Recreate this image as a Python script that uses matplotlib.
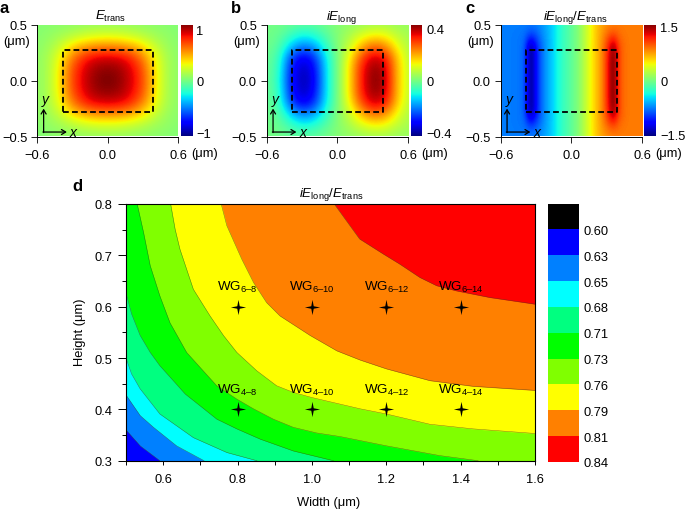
import numpy as np
import matplotlib
matplotlib.use("Agg")
import matplotlib.pyplot as plt
from matplotlib.colors import ListedColormap, BoundaryNorm
from matplotlib.path import Path

plt.rcParams['font.family'] = ['Liberation Sans', 'DejaVu Sans']
plt.rcParams['mathtext.fontset'] = 'custom'
plt.rcParams['mathtext.rm'] = 'Liberation Sans'
plt.rcParams['mathtext.it'] = 'Liberation Sans:italic'
plt.rcParams['mathtext.bf'] = 'Liberation Sans:bold'
plt.rcParams['axes.unicode_minus'] = True

W, H = 685, 510
UM = "(\u03bcm)"
FS = 9.3

# panel a, rows from y=0.5 down to y=-0.5, columns x=-0.6..0.6
e_trans = [
  [.02, .03, .04, .05, .06, .07, .07, .07, .06, .05, .04, .03, .02],
  [.03, .06, .10, .15, .20, .23, .24, .23, .20, .15, .10, .06, .03],
  [.04, .09, .21, .38, .50, .56, .58, .56, .50, .38, .21, .09, .04],
  [.05, .12, .32, .60, .80, .90, .92, .90, .80, .60, .32, .12, .05],
  [.05, .13, .36, .70, .90, 1.02, 1.05, 1.02, .90, .70, .36, .13, .05],
  [.05, .13, .38, .72, .92, 1.05, 1.10, 1.05, .92, .72, .38, .13, .05],
  [.05, .13, .36, .70, .90, 1.02, 1.05, 1.02, .90, .70, .36, .13, .05],
  [.05, .12, .32, .60, .80, .90, .92, .90, .80, .60, .32, .12, .05],
  [.04, .09, .21, .38, .50, .56, .58, .56, .50, .38, .21, .09, .04],
  [.03, .06, .10, .15, .20, .23, .24, .23, .20, .15, .10, .06, .03],
  [.02, .03, .04, .05, .06, .07, .07, .07, .06, .05, .04, .03, .02],
]

# panel b, same grid
e_long = [
  [-.01, -.01, -.02, -.03, -.03, -.01, .01, .02, .03, .04, .04, .03, .03],
  [-.01, -.02, -.07, -.11, -.09, -.04, .01, .05, .10, .13, .12, .07, .04],
  [-.01, -.04, -.15, -.22, -.19, -.08, .01, .08, .19, .26, .23, .12, .05],
  [-.02, -.06, -.26, -.35, -.29, -.12, .00, .13, .29, .38, .34, .17, .06],
  [-.02, -.07, -.30, -.39, -.33, -.13, .00, .15, .33, .42, .38, .18, .07],
  [-.02, -.08, -.31, -.40, -.34, -.13, .00, .15, .33, .43, .39, .18, .07],
  [-.02, -.07, -.30, -.39, -.33, -.13, .00, .15, .33, .42, .38, .18, .07],
  [-.02, -.06, -.26, -.35, -.29, -.12, .00, .13, .29, .38, .34, .17, .06],
  [-.01, -.04, -.15, -.22, -.19, -.08, .01, .08, .19, .26, .23, .12, .05],
  [-.01, -.02, -.07, -.11, -.09, -.04, .01, .05, .10, .13, .12, .07, .04],
  [-.01, -.01, -.02, -.03, -.03, -.01, .01, .02, .03, .04, .04, .03, .03],
]

# panel c, columns x=-0.6..0.6 in steps of 0.05
ratio_outer = [-.78, -.78, -.78, -.78, -.78, -.78, -.76, -.70, -.60, -.48, -.32, -.20, -.10, .02, .20, .40, .60, .72, .80, .84, .86, .86, .86, .86, .86]
ratio_near = [-.78, -.78, -.79, -.80, -.82, -.98, -.90, -.74, -.62, -.48, -.32, -.20, -.10, .02, .20, .40, .60, .76, .95, 1.05, .92, .88, .86, .86, .86]
ratio_edge = [-.78, -.78, -.79, -.80, -.86, -1.55, -1.10, -.80, -.63, -.48, -.32, -.20, -.10, .02, .20, .42, .60, .80, 1.1, 1.55, 1.0, .90, .86, .86, .86]
ratio_inner = [-.78, -.78, -.79, -.80, -.86, -1.6, -1.10, -.80, -.63, -.48, -.32, -.20, -.10, .02, .20, .42, .60, .80, 1.15, 1.65, 1.0, .90, .86, .86, .86]
ratio_rows = [ratio_outer, ratio_near, ratio_edge, ratio_inner, ratio_inner, ratio_inner,
              ratio_inner, ratio_inner, ratio_edge, ratio_near, ratio_outer]

# panel d, region boundaries as (width, height)
b1_x = [.50, .538, .591]
b1_y = [.360, .329, .300]
b2_x = [.50, .538, .574, .636, .710]
b2_y = [.428, .388, .365, .329, .300]
b3_x = [.50, .515, .538, .591, .681, .771, .852]
b3_y = [.500, .469, .440, .391, .345, .316, .300]
b4_x = [.50, .515, .538, .565, .591, .627, .659, .699, .744, .798, .861, .950, 1.058]
b4_y = [.627, .586, .544, .511, .485, .456, .430, .407, .381, .362, .342, .319, .300]
b5_x = [.530, .547, .565, .591, .618, .663, .699, .744, .798, .843, .896, .950, 1.013, 1.076, 1.20, 1.343, 1.447]
b5_y = [.800, .745, .680, .621, .569, .511, .482, .446, .420, .401, .381, .365, .354, .347, .329, .310, .300]
b6_x = [.620, .632, .645, .681, .726, .762, .798, .852, .905, .950, 1.00, 1.130, 1.20, 1.317, 1.433, 1.60]
b6_y = [.800, .751, .712, .634, .582, .544, .511, .475, .446, .433, .423, .401, .391, .371, .362, .353]
b7_x = [.756, .771, .811, .843, .878, .914, .995, 1.067, 1.130, 1.20, 1.317, 1.433, 1.60]
b7_y = [.800, .758, .693, .647, .608, .582, .544, .514, .496, .479, .456, .445, .437]
b8_x = [1.060, 1.128, 1.191, 1.236, 1.290, 1.335, 1.388, 1.478, 1.60]
b8_y = [.800, .732, .703, .683, .657, .641, .631, .618, .605]

band_colors = ['#000000', '#0000ff', '#0080ff', '#00ffff', '#00ff80', '#00ff00', '#80ff00', '#ffff00', '#ff8000', '#ff0000']
band_labels = ['0.60', '0.63', '0.65', '0.68', '0.71', '0.73', '0.76', '0.79', '0.81', '0.84']

wg_width = [0.8, 1.0, 1.2, 1.4, 0.8, 1.0, 1.2, 1.4]
wg_height = [0.6, 0.6, 0.6, 0.6, 0.4, 0.4, 0.4, 0.4]
wg_names = ['6\u20138', '6\u201310', '6\u201312', '6\u201314', '4\u20138', '4\u201310', '4\u201312', '4\u201314']

fig = plt.figure(figsize=(W / 100, H / 100), dpi=100)


def px_axes(left, top, right, bottom):
  return fig.add_axes([left / W, 1 - bottom / H, (right - left) / W, (bottom - top) / H])


def px_text(x, y, s, **kw):
  fig.text(x / W, 1 - y / H, s, **kw)


def field_panel(left, right, cb_left, cb_right, field, vmax, cb_ticks, cb_names, rect, letter, title, title_x, letter_x):
  ax = px_axes(left, 26, right, 137.5)
  field = np.array(field)
  # extent so that the cell centres sit on the grid values
  dx = 1.2 / (field.shape[1] - 1) / 2
  dy = 1.0 / (field.shape[0] - 1) / 2
  ax.imshow(field, cmap='jet', vmin=-vmax, vmax=vmax, extent=[-0.6 - dx, 0.6 + dx, -0.5 - dy, 0.5 + dy],
            aspect='auto', interpolation='bicubic')
  ax.set_xlim(-0.6, 0.6)
  ax.set_ylim(-0.5, 0.5)
  ax.set_xticks([-0.6, 0, 0.6], ['\u22120.6', '0.0', '0.6'])
  ax.set_yticks([-0.5, 0, 0.5], ['\u22120.5', '0.0', '0.5'])
  ax.tick_params(labelsize=FS, length=4, width=0.7, color='#222222')
  ax.tick_params(axis='x', pad=5)
  ax.tick_params(axis='y', pad=3)
  for s in ['top', 'right']:
    ax.spines[s].set_visible(False)
  for s in ['left', 'bottom']:
    ax.spines[s].set_linewidth(0.7)
  rx = [rect[0], rect[1], rect[1], rect[0], rect[0]]
  ry = [rect[2], rect[2], rect[3], rect[3], rect[2]]
  ax.plot(rx, ry, color='black', lw=1.3, linestyle=(0, (3.2, 1.8)))
  ax.annotate('', xy=(0.045, 0.25), xytext=(0.045, 0.035), xycoords='axes fraction',
              arrowprops=dict(arrowstyle='->,head_width=0.18,head_length=0.3', lw=0.9, color='black', shrinkA=0, shrinkB=0))
  ax.annotate('', xy=(0.21, 0.04), xytext=(0.04, 0.04), xycoords='axes fraction',
              arrowprops=dict(arrowstyle='->,head_width=0.18,head_length=0.3', lw=0.9, color='black', shrinkA=0, shrinkB=0))
  ax.text(0.255, 0.04, 'x', style='italic', fontsize=10, ha='center', va='center', transform=ax.transAxes)
  ax.text(0.06, 0.335, 'y', style='italic', fontsize=10, ha='center', va='center', transform=ax.transAxes)

  cb = px_axes(cb_left, 26, cb_right, 137.5)
  cb.imshow(np.linspace(vmax, -vmax, 256).reshape(-1, 1), cmap='jet', vmin=-vmax, vmax=vmax,
            extent=[0, 1, -vmax, vmax], aspect='auto')
  cb.set_xticks([])
  cb.yaxis.tick_right()
  cb.set_yticks(cb_ticks, cb_names)
  cb.tick_params(labelsize=FS, length=0, pad=3)
  for s in cb.spines.values():
    s.set_visible(False)

  px_text(left - 7, 42, UM, fontsize=FS, ha='right', va='center')
  px_text(right + 13, 154, UM, fontsize=FS, ha='left', va='center')
  px_text(letter_x, 13, letter, fontsize=12, fontweight='bold', ha='left', va='baseline')
  px_text(title_x, 20, title, fontsize=9.5, ha='center', va='baseline')


field_panel(37.3, 178, 181, 192, e_trans, 1.08, [-1, 0, 1], ['\u22121', '0', '1'],
            [-0.385, 0.39, -0.28, 0.28], 'a', r'$\mathit{E}_{\mathrm{trans}}$', 111, 0)
field_panel(266.7, 408, 411, 422, e_long, 0.43, [-0.4, 0, 0.4], ['\u22120.4', '0', '0.4'],
            [-0.385, 0.385, -0.28, 0.28], 'b', r'$\mathit{iE}_{\mathrm{long}}$', 341, 231)
field_panel(500.7, 642, 644, 656, ratio_rows, 1.55, [-1.5, 0, 1.5], ['\u22121.5', '0', '1.5'],
            [-0.385, 0.385, -0.28, 0.28], 'c', r'$\mathit{iE}_{\mathrm{long}}/\mathit{E}_{\mathrm{trans}}$', 575, 465)

# panel d
ax = px_axes(126, 205, 535, 461.7)
ax.set_xlim(0.5, 1.6)
ax.set_ylim(0.3, 0.8)
ax.set_facecolor(band_colors[1])
bounds = [(b1_x, b1_y), (b2_x, b2_y), (b3_x, b3_y), (b4_x, b4_y), (b5_x, b5_y), (b6_x, b6_y), (b7_x, b7_y), (b8_x, b8_y)]
for i, (bx, by) in enumerate(bounds):
  fx = list(bx) + [1.6]
  fy = list(by) + [by[-1]]
  ax.fill_between(fx, fy, 0.8, color=band_colors[i + 2], lw=0, zorder=1 + i * 0.01)
  ax.plot(bx, by, color='#404020', lw=0.35, alpha=0.7, zorder=1.5)

star = Path([(0, 1), (0.16, 0.16), (1, 0), (0.16, -0.16), (0, -1), (-0.16, -0.16), (-1, 0), (-0.16, 0.16), (0, 1)], closed=True)
ax.plot(wg_width, wg_height, linestyle='none', marker=star, markersize=11, color='black', mew=0, zorder=3)
for wx, wy, name in zip(wg_width, wg_height, wg_names):
  ax.text(wx, wy + 0.033, 'WG$_{\\mathrm{' + name + '}}$', fontsize=9.6, ha='center', va='baseline', zorder=4)

ax.set_xticks([0.6, 0.8, 1.0, 1.2, 1.4, 1.6], ['0.6', '0.8', '1.0', '1.2', '1.4', '1.6'])
ax.set_xticks([0.5, 0.7, 0.9, 1.1, 1.3, 1.5], minor=True)
ax.set_yticks([0.3, 0.4, 0.5, 0.6, 0.7, 0.8], ['0.3', '0.4', '0.5', '0.6', '0.7', '0.8'])
ax.set_yticks([0.35, 0.45, 0.55, 0.65, 0.75], minor=True)
ax.tick_params(axis='x', which='major', labelsize=FS, width=0.7, length=3, pad=6)
ax.tick_params(axis='x', which='minor', width=0.7, length=3)
ax.tick_params(axis='y', which='major', labelsize=FS, width=0.7, length=5.5, pad=4)
ax.tick_params(axis='y', which='minor', width=0.7, length=3)
for s in ax.spines.values():
  s.set_linewidth(0.8)
ax.set_axisbelow(False)
px_text(80, 332, 'Height ' + UM, fontsize=FS, rotation=90, ha='center', va='center')
px_text(328.5, 503, 'Width ' + UM, fontsize=FS, ha='center', va='center')
px_text(331, 197, r'$\mathit{iE}_{\mathrm{long}}/\mathit{E}_{\mathrm{trans}}$', fontsize=9.5, ha='center', va='baseline')
px_text(72, 191, 'd', fontsize=12, fontweight='bold', ha='left', va='baseline')

# stepped colour bar, black on top
cb = px_axes(547.7, 204.5, 579, 463)
n = len(band_colors)
cb.pcolormesh([0, 1], np.arange(n + 1), np.arange(n).reshape(-1, 1),
              cmap=ListedColormap(band_colors), norm=BoundaryNorm(np.arange(n + 1) - 0.5, n))
cb.set_ylim(n, 0)
cb.set_xticks([])
cb.yaxis.tick_right()
cb.set_yticks(np.arange(1, n + 1), band_labels)
cb.tick_params(labelsize=FS, length=0, pad=3)
for s in cb.spines.values():
  s.set_visible(False)

fig.savefig("out.png", dpi=100)
